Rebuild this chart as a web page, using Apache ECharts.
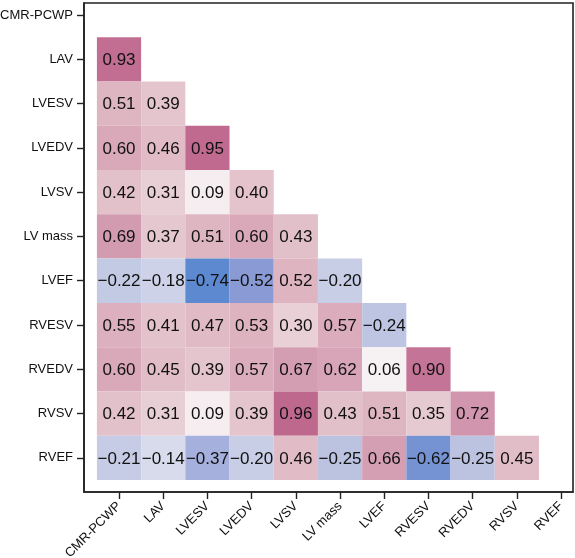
<!DOCTYPE html>
<html>
<head>
<meta charset="utf-8">
<script src="https://cdn.jsdelivr.net/npm/echarts@6/dist/echarts.min.js"></script>
<style>
html,body{margin:0;padding:0;background:#fff;}
#chart{width:575px;height:558px;}
</style>
</head>
<body>
<div id="chart"></div>
<script>
const categories = ['CMR-PCWP','LAV','LVESV','LVEDV','LVSV','LV mass','LVEF','RVESV','RVEDV','RVSV','RVEF'];
const rowLAV    = [0.93];
const rowLVESV  = [0.51, 0.39];
const rowLVEDV  = [0.60, 0.46, 0.95];
const rowLVSV   = [0.42, 0.31, 0.09, 0.40];
const rowLVmass = [0.69, 0.37, 0.51, 0.60, 0.43];
const rowLVEF   = [-0.22, -0.18, -0.74, -0.52, 0.52, -0.20];
const rowRVESV  = [0.55, 0.41, 0.47, 0.53, 0.30, 0.57, -0.24];
const rowRVEDV  = [0.60, 0.45, 0.39, 0.57, 0.67, 0.62, 0.06, 0.90];
const rowRVSV   = [0.42, 0.31, 0.09, 0.39, 0.96, 0.43, 0.51, 0.35, 0.72];
const rowRVEF   = [-0.21, -0.14, -0.37, -0.20, 0.46, -0.25, 0.66, -0.62, -0.25, 0.45];

const rows = [[], rowLAV, rowLVESV, rowLVEDV, rowLVSV, rowLVmass, rowLVEF, rowRVESV, rowRVEDV, rowRVSV, rowRVEF];
const data = [];
rows.forEach((r, i) => r.forEach((v, j) => data.push([j, i, v])));

const tickIdx = categories.map((c, i) => i);
const fontFam = '"Liberation Sans", Arial, Helvetica, sans-serif';
const fmt = v => v.toFixed(2).replace('-', '\u2212');

const chart = echarts.init(document.getElementById('chart'));
chart.setOption({
  backgroundColor: '#fff',
  animation: false,
  grid: { left: 84, top: 3, right: 2, bottom: 66, containLabel: false, outerBoundsMode: 'none', show: true, borderColor: '#222', borderWidth: 1.6, backgroundColor: 'transparent' },
  xAxis: {
    type: 'value', min: -0.792, max: 10.27,
    splitLine: { show: false },
    axisLine: { show: true, onZero: false, lineStyle: { color: '#222', width: 1.6 } },
    axisTick: { show: true, inside: false, customValues: tickIdx, length: 7, lineStyle: { color: '#222', width: 1.4 } },
    axisLabel: { customValues: tickIdx, formatter: v => categories[Math.round(v)], rotate: 45, fontSize: 13, color: '#111', fontFamily: fontFam, margin: 12 }
  },
  yAxis: {
    type: 'value', inverse: true, min: -0.271, max: 10.77,
    splitLine: { show: false },
    axisLine: { show: true, onZero: false, lineStyle: { color: '#222', width: 1.6 } },
    axisTick: { show: true, inside: false, customValues: tickIdx, length: 7, lineStyle: { color: '#222', width: 1.4 } },
    axisLabel: { customValues: tickIdx, formatter: v => categories[Math.round(v)], fontSize: 13, color: '#111', fontFamily: fontFam, margin: 11 }
  },
  visualMap: {
    show: false, type: 'continuous', min: -1, max: 1, dimension: 2, seriesIndex: 0,
    inRange: { color: ['#3a78cc', '#5a88cf', '#8e9cd6', '#bcc3e1', '#fafafa', '#ebd6dc', '#dfb7c3', '#cf92aa', '#bc6089'] }
  },
  series: [{
    type: 'custom',
    data: data,
    encode: { x: 0, y: 1 },
    renderItem: function (params, api) {
      const x = api.value(0), y = api.value(1), v = api.value(2);
      const p1 = api.coord([x - 0.5, y - 0.5]);
      const p2 = api.coord([x + 0.5, y + 0.5]);
      const c = api.coord([x, y]);
      return {
        type: 'group',
        children: [{
          type: 'rect',
          shape: { x: Math.min(p1[0], p2[0]), y: Math.min(p1[1], p2[1]), width: Math.abs(p2[0] - p1[0]), height: Math.abs(p2[1] - p1[1]) },
          style: { fill: api.visual('color') }
        }, {
          type: 'text',
          x: c[0], y: c[1] + 1,
          style: { text: fmt(v), fill: '#111', fontSize: 17, fontFamily: fontFam, align: 'center', verticalAlign: 'middle' }
        }]
      };
    }
  }]
});
</script>
</body>
</html>
